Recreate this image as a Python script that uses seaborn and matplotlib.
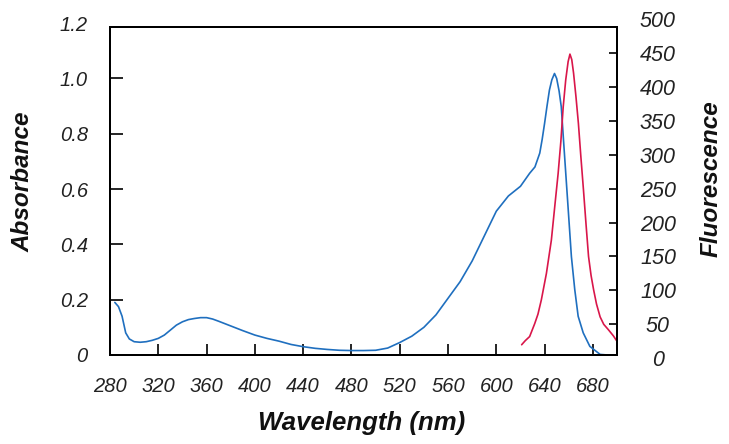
import numpy as np
import pandas as pd
import matplotlib
matplotlib.use("Agg")
import matplotlib.pyplot as plt
import seaborn as sns

# -----------------------------
# Data
# -----------------------------
abs_wavelength = [284, 287, 290, 293, 296, 300, 305, 310, 315, 320, 325, 330, 335, 340,
                  345, 350, 355, 360, 365, 370, 380, 390, 400, 410, 420, 430, 440, 450,
                  460, 470, 480, 490, 500, 510, 520, 530, 540, 550, 560, 570, 580, 590,
                  600, 610, 620, 627.6, 632, 636, 638, 640, 642, 644, 646, 648.2, 650, 652,
                  653.8, 656.6, 659.4, 662.2, 665, 667.8, 672, 677.5, 686, 692, 700]
absorbance = [0.19, 0.175, 0.14, 0.08, 0.058, 0.048, 0.046, 0.048, 0.053, 0.06, 0.072, 0.09,
              0.108, 0.12, 0.128, 0.132, 0.135, 0.135, 0.13, 0.122, 0.105, 0.088, 0.072,
              0.06, 0.05, 0.038, 0.03, 0.024, 0.02, 0.017, 0.016, 0.016, 0.017, 0.025,
              0.045, 0.068, 0.1, 0.145, 0.205, 0.265, 0.34, 0.43, 0.52, 0.575, 0.61, 0.657,
              0.68, 0.73, 0.78, 0.838, 0.9, 0.958, 0.995, 1.018, 1.0, 0.955, 0.898, 0.717,
              0.537, 0.356, 0.236, 0.14, 0.08, 0.031, 0.002, 0.0, 0.0]

fl_wavelength = [621, 624, 627.6, 631.8, 634.5, 637.3, 641.5, 645.6, 648.5, 651.2, 653.5,
                 655.4, 657.5, 659.5, 661, 662.5, 664, 666, 668, 670, 672.2, 674.3, 676.4,
                 678.5, 680.6, 683, 686, 689, 692.9, 697, 700]
fluorescence = [20, 26, 32, 51, 65, 86, 125, 174, 225, 272, 320, 370, 410, 437, 448, 440,
                420, 385, 346, 298, 248, 198, 150, 122, 101, 80, 61, 50, 42, 33, 25]

x_ticks = [280, 320, 360, 400, 440, 480, 520, 560, 600, 640, 680]
abs_ticks = [0, 0.2, 0.4, 0.6, 0.8, 1.0]
abs_tick_labels = ["0", "0.2", "0.4", "0.6", "0.8", "1.0"]
fl_ticks = [50, 100, 150, 200, 250, 300, 350, 400, 450]

df_abs = pd.DataFrame({"Wavelength": abs_wavelength, "Absorbance": absorbance})
df_fl = pd.DataFrame({"Wavelength": fl_wavelength, "Fluorescence": fluorescence})

# -----------------------------
# Style
# -----------------------------
sns.set_theme(style="white")
plt.rcParams["font.family"] = ["Liberation Sans", "DejaVu Sans"]

BLUE = "#1f6fbf"
RED = "#d9164a"
TICK_COLOR = "#222222"

fig = plt.figure(figsize=(7.29, 4.44), dpi=100)
ax = fig.add_axes([0.1509, 0.2005, 0.6955, 0.738])
ax2 = ax.twinx()

sns.lineplot(data=df_abs, x="Wavelength", y="Absorbance", ax=ax, color=BLUE, linewidth=1.2)
sns.lineplot(data=df_fl, x="Wavelength", y="Fluorescence", ax=ax2, color=RED, linewidth=1.2)

ax.set_xlim(280, 700)
ax.set_ylim(0, 1.185)
ax2.set_ylim(4.9, 487.5)

ax.set_xticks(x_ticks)
ax.set_xticklabels([str(t) for t in x_ticks], fontstyle="italic")
ax.set_yticks(abs_ticks)
ax.set_yticklabels(abs_tick_labels, fontstyle="italic")
ax2.set_yticks(fl_ticks)
ax2.set_yticklabels([str(t) for t in fl_ticks], fontstyle="italic")

for spine in list(ax.spines.values()) + list(ax2.spines.values()):
    spine.set_color("black")
    spine.set_linewidth(1.4)

ax.tick_params(axis="y", direction="in", length=9.5, width=1.2, pad=16,
               labelsize=14.5, labelcolor=TICK_COLOR, color="black", left=True)
ax.tick_params(axis="x", direction="in", length=8, width=1.2, pad=16,
               labelsize=14.5, labelcolor=TICK_COLOR, color="black", bottom=True)
ax2.tick_params(axis="y", direction="in", length=5.5, width=1.2, pad=29.5,
                labelsize=15.5, labelcolor=TICK_COLOR, color="black", right=True)
for lbl in ax2.get_yticklabels():
    lbl.set_horizontalalignment("center")

# tick labels that sit just outside the drawn limits
ax.annotate("1.2", xy=(0, 1.2), xycoords=("axes fraction", "data"), xytext=(-16, 0),
            textcoords="offset points", ha="right", va="center_baseline", fontsize=14.5,
            fontstyle="italic", color=TICK_COLOR, annotation_clip=False)
for val in [0, 500]:
    ax2.annotate(str(val), xy=(1, val), xycoords=("axes fraction", "data"), xytext=(29.5, 0),
                 textcoords="offset points", ha="center", va="center_baseline", fontsize=15.5,
                 fontstyle="italic", color=TICK_COLOR, annotation_clip=False)

ax.set_xlabel("Wavelength (nm)", fontsize=18.5, fontweight="bold", fontstyle="italic", color="#111111")
ax.set_ylabel("Absorbance", fontsize=17.5, fontweight="bold", fontstyle="italic", color="#111111")
ax2.set_ylabel("Fluorescence", fontsize=17.5, fontweight="bold", fontstyle="italic", color="#111111")
ax.xaxis.set_label_coords(0.497, -0.2075)
ax.yaxis.set_label_coords(-0.1716, 0.528)
ax2.yaxis.set_label_coords(1.185, 0.537)
for a in (ax, ax2):
    a.xaxis.label.set_va("center")
    a.yaxis.label.set_va("center")

fig.savefig("out.png", dpi=100)
